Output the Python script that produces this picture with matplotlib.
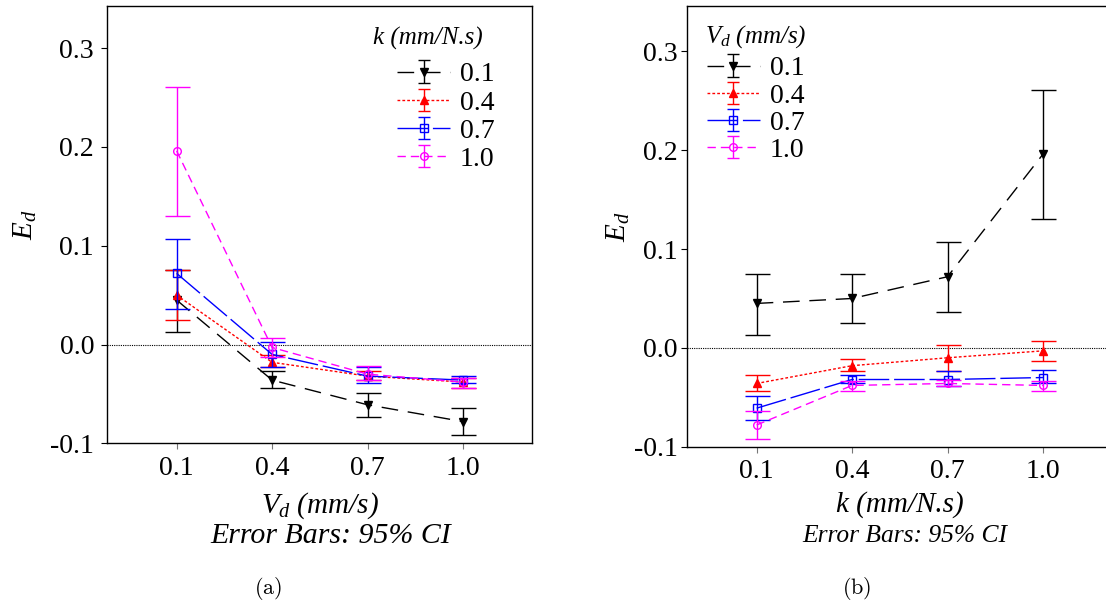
import matplotlib
matplotlib.use("Agg")
import matplotlib.pyplot as plt
from matplotlib.lines import Line2D
from matplotlib.legend_handler import HandlerErrorbar
from matplotlib.container import ErrorbarContainer

# ---------------- data ----------------
vd_levels = [0.1, 0.4, 0.7, 1.0]      # V_d (mm/s)
k_levels = [0.1, 0.4, 0.7, 1.0]       # k (mm/N.s)
level_labels = ["0.1", "0.4", "0.7", "1.0"]
tick_labels = ["0.1", "0.4", "0.7", "1.0"]
y_ticks = [-0.1, 0.0, 0.1, 0.2, 0.3]
y_tick_labels = ["-0.1", "0.0", "0.1", "0.2", "0.3"]

# E_d mean for each V_d level, over k = 0.1, 0.4, 0.7, 1.0
mean_vd01 = [0.045, 0.050, 0.072, 0.196]
mean_vd04 = [-0.036, -0.018, -0.010, -0.003]
mean_vd07 = [-0.061, -0.032, -0.032, -0.030]
mean_vd10 = [-0.078, -0.038, -0.036, -0.038]

# 95% CI lower bounds
lo_vd01 = [0.013, 0.025, 0.036, 0.130]
lo_vd04 = [-0.044, -0.023, -0.023, -0.013]
lo_vd07 = [-0.073, -0.036, -0.039, -0.036]
lo_vd10 = [-0.092, -0.044, -0.039, -0.044]

# 95% CI upper bounds
hi_vd01 = [0.075, 0.075, 0.107, 0.261]
hi_vd04 = [-0.027, -0.011, 0.003, 0.007]
hi_vd07 = [-0.049, -0.027, -0.023, -0.022]
hi_vd10 = [-0.064, -0.034, -0.032, -0.034]

means = [mean_vd01, mean_vd04, mean_vd07, mean_vd10]
lows = [lo_vd01, lo_vd04, lo_vd07, lo_vd10]
highs = [hi_vd01, hi_vd04, hi_vd07, hi_vd10]

# ---------------- style ----------------
plt.rcParams["font.family"] = ["Liberation Serif", "DejaVu Serif"]
plt.rcParams["mathtext.fontset"] = "custom"
plt.rcParams["mathtext.rm"] = "Liberation Serif"
plt.rcParams["mathtext.it"] = "Liberation Serif:italic"

colors = ["#000000", "#ff0000", "#0000ff", "#ff00ff"]
markers = ["v", "^", "s", "o"]
faces = ["#000000", "#ff0000", "none", "none"]
dashes = [(12, 7), (2, 1.5), (22, 3.5), (6, 3.6)]

W, H = 1106, 604
fig = plt.figure(figsize=(W / 100, H / 100), dpi=100)


def px_rect(x0, y0, x1, y1):
    return [x0 / W, 1 - y1 / H, (x1 - x0) / W, (y1 - y0) / H]


ax1 = fig.add_axes(px_rect(107.3, 5.7, 532.3, 443.3))
ax2 = fig.add_axes(px_rect(687.3, 6.0, 1112.3, 446.7))

tick_fs = 20
label_fs = 21


def draw_panel(ax, xvals, series, series_lo, series_hi):
    handles = []
    for i in range(4):
        m = series[i]
        yerr = [[m[j] - series_lo[i][j] for j in range(4)],
                [series_hi[i][j] - m[j] for j in range(4)]]
        c = ax.errorbar(xvals, m, yerr=yerr, color=colors[i], lw=1.0,
                        elinewidth=1.0, capsize=9, capthick=1.0,
                        marker=markers[i], markersize=5.5,
                        markerfacecolor=faces[i], markeredgecolor=colors[i],
                        markeredgewidth=1.0, zorder=3 + i)
        c.lines[0].set_dashes(dashes[i])
        handles.append(c)
    ax.axhline(0, color="black", lw=0.8, ls=(0, (1, 1)), zorder=1)
    ax.set_xticks(xvals)
    ax.set_xticklabels(tick_labels, fontsize=tick_fs)
    ax.set_yticks(y_ticks)
    ax.set_yticklabels(y_tick_labels, fontsize=tick_fs)
    ax.tick_params(axis="x", direction="out", length=4, width=0.8,
                   color="#777777", pad=5)
    for sp in ax.spines.values():
        sp.set_linewidth(1.0)
    return handles


# Panel (a): x = V_d, series = k  (transpose of the table)
series_k = [[means[i][j] for i in range(4)] for j in range(4)]
series_k_lo = [[lows[i][j] for i in range(4)] for j in range(4)]
series_k_hi = [[highs[i][j] for i in range(4)] for j in range(4)]
h1 = draw_panel(ax1, vd_levels, series_k, series_k_lo, series_k_hi)
ax1.set_xlim(-0.118, 1.218)
ax1.set_ylim(-0.1, 0.343)
ax1.tick_params(axis="y", direction="out", length=4.5, width=0.8, pad=5)
ax1.set_xlabel(r"$V_d$ (mm/s)", fontsize=label_fs, style="italic", labelpad=7)
ax1.set_ylabel(r"$E_d$", fontsize=label_fs, labelpad=8)

# Panel (b): x = k, series = V_d
h2 = draw_panel(ax2, k_levels, means, lows, highs)
ax2.set_xlim(-0.118, 1.218)
ax2.set_ylim(-0.1, 0.346)
ax2.tick_params(axis="y", direction="out", length=4.5, width=0.8, pad=2.5)
ax2.set_xlabel("k (mm/N.s)", fontsize=label_fs, style="italic", labelpad=5)
ax2.set_ylabel(r"$E_d$", fontsize=label_fs, labelpad=1)

hm = {ErrorbarContainer: HandlerErrorbar(yerr_size=0.4)}

leg1 = ax1.legend(h1, level_labels, loc="upper left",
                  bbox_to_anchor=(0.682, 0.8716),
                  frameon=False, fontsize=20, handlelength=1.9,
                  handletextpad=0.36, labelspacing=0.10, borderaxespad=0,
                  borderpad=0, handler_map=hm)
leg2 = ax2.legend(h2, level_labels, loc="upper left",
                  bbox_to_anchor=(0.046, 0.8868),
                  frameon=False, fontsize=20, handlelength=1.9,
                  handletextpad=0.36, labelspacing=0.065, borderaxespad=0,
                  borderpad=0, handler_map=hm)
for leg in (leg1, leg2):
    for ln in leg.findobj(Line2D):
        if ln.get_marker() == "_":
            ln.set_markersize(8)

ax1.text(0.625, 0.912, "k (mm/N.s)", transform=ax1.transAxes, fontsize=18,
         style="italic", ha="left", va="baseline")
ax2.text(0.042, 0.918, r"$V_d$ (mm/s)", transform=ax2.transAxes, fontsize=18,
         style="italic", ha="left", va="baseline")

fig.text(331 / W, 1 - 543 / H, "Error Bars: 95% CI", fontsize=21.5,
         style="italic", ha="center", va="baseline")
fig.text(905 / W, 1 - 541.7 / H, "Error Bars: 95% CI", fontsize=18.4,
         style="italic", ha="center", va="baseline")
fig.text(268 / W, 1 - 594 / H, r"$\mathrm{(a)}$", fontsize=16,
         ha="center", va="baseline", math_fontfamily="cm")
fig.text(857 / W, 1 - 594 / H, r"$\mathrm{(b)}$", fontsize=16,
         ha="center", va="baseline", math_fontfamily="cm")

fig.savefig("out.png", dpi=100)
